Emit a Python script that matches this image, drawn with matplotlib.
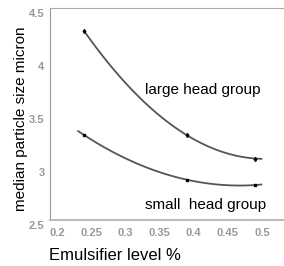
import numpy as np
import matplotlib
matplotlib.use("Agg")
import matplotlib.pyplot as plt
import matplotlib.transforms as mtrans

emulsifier = [0.24, 0.39, 0.49]
large_head = [4.28, 3.30, 3.08]
small_head = [3.30, 2.88, 2.83]
x_ticks = [0.2, 0.25, 0.3, 0.35, 0.4, 0.45, 0.5]
y_ticks = [2.5, 3, 3.5, 4, 4.5]

plt.rcParams['font.family'] = ['Liberation Sans', 'DejaVu Sans']

fig = plt.figure(figsize=(2.84, 2.66), dpi=100)
ax = fig.add_axes([50/284, 1-220/266, 1-50/284, 212/266])

line_c = '#555555'
for ys, x0, mk, lab, ly in [(large_head, 0.24, 'd', 'large head group', 3.73),
                            (small_head, 0.231, 's', 'small  head group', 2.64)]:
    coef = np.polyfit(emulsifier, ys, 2)
    xx = np.linspace(x0, 0.499, 100)
    ax.plot(xx, np.polyval(coef, xx), color=line_c, lw=1.3, zorder=2)
    ax.plot(emulsifier, ys, linestyle='none', marker=mk, ms=2.0, color='black', zorder=3)
    ax.text(0.3287, ly, lab, fontsize=11, color='black', ha='left', va='center')

ax.set_xlim(0.1898, 0.532)
ax.set_ylim(2.5, 4.5)
ax.set_xticks(x_ticks)
ax.set_xticklabels([f'{v:g}' for v in x_ticks])
ax.set_yticks(y_ticks)
ax.set_yticklabels([f'{v:g}' for v in y_ticks])
ax.tick_params(length=0, labelsize=8, labelcolor='#999999', pad=4)
ax.tick_params(axis='x', pad=6)
for t in ax.get_xticklabels() + ax.get_yticklabels():
    t.set_fontweight('bold')
off = mtrans.ScaledTranslation(0, -5/100, fig.dpi_scale_trans)
for t in ax.get_yticklabels():
    t.set_transform(t.get_transform() + off)

ax.spines['right'].set_visible(False)
ax.spines['left'].set_color('#999999')
ax.spines['top'].set_color('#aaaaaa')
ax.spines['bottom'].set_color('#bbbbbb')
ax.spines['bottom'].set_linewidth(1.5)

fig.text(115/284, 1-256/266, 'Emulsifier level %', fontsize=12, ha='center', va='center')
fig.text(21/284, 1-119/266, 'median particle size micron', fontsize=11, ha='center', va='center', rotation=90)

fig.savefig('out.png', dpi=100)
